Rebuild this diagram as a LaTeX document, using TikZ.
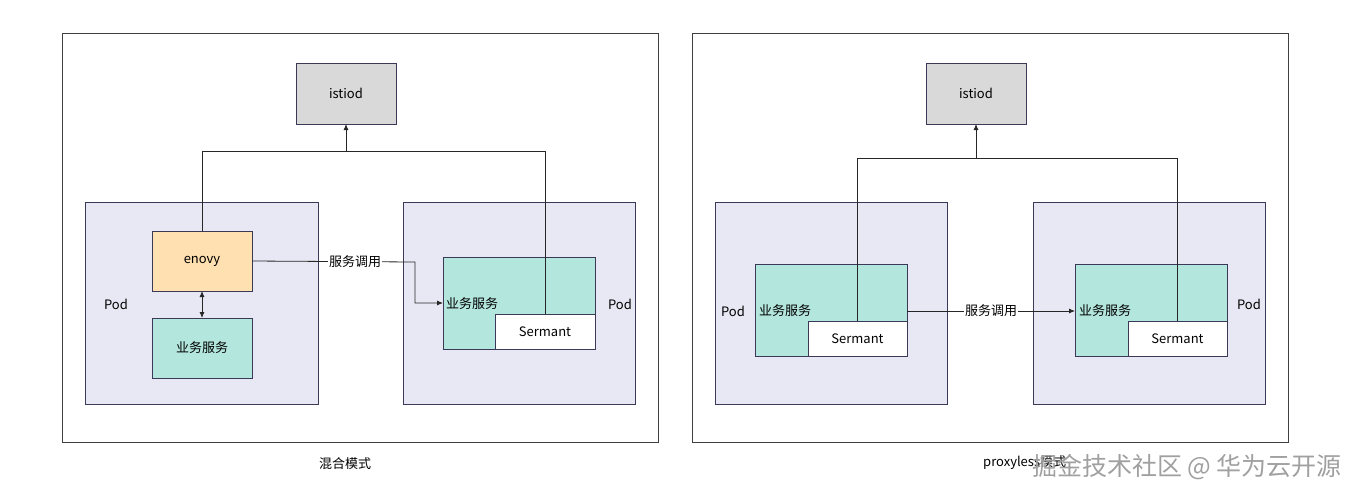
\documentclass[tikz,border=0pt]{standalone}
\usepackage{fontspec}
\setmainfont{Noto Sans CJK SC}
\usetikzlibrary{arrows.meta,calc}
\definecolor{podfill}{HTML}{E8E8F4}
\definecolor{podline}{HTML}{3A3A58}
\definecolor{tealfill}{HTML}{B3E7DE}
\definecolor{peach}{HTML}{FFE0B0}
\definecolor{grayfill}{HTML}{D9D9D9}
\definecolor{wm}{HTML}{A0A0A0}
\tikzset{
  panel/.style={draw=black!75, line width=0.8pt, inner sep=0pt, outer sep=0pt},
  pod/.style={draw=podline, fill=podfill, line width=0.8pt, inner sep=0pt, outer sep=0pt},
  boxx/.style={draw=podline, line width=0.8pt, inner sep=0pt, outer sep=0pt, font=\fontsize{13}{15}\selectfont},
  lbl/.style={font=\fontsize{13}{15}\selectfont, inner sep=1pt},
  wire/.style={line width=0.8pt, draw=black!85},
  arr/.style={wire, -{Latex[length=6pt,width=5pt]}},
  darr/.style={wire, {Latex[length=6pt,width=5pt]}-{Latex[length=6pt,width=5pt]}},
}
\begin{document}
\begin{tikzpicture}[x=1pt,y=-1pt]
\useasboundingbox (0,0) rectangle (1357,499);
% ===== left panel =====
\node[panel, minimum width=596pt, minimum height=409pt] (panL) at (360,237.5) {};
\node[boxx, fill=grayfill, minimum width=100pt, minimum height=61pt] (istiodL) at (346,93.5) {istiod};
\node[pod, minimum width=233pt, minimum height=202pt] (podL1) at (201.5,303) {};
\node[pod, minimum width=232pt, minimum height=202pt] (podL2) at (519,303) {};
\node[lbl] (podL1t) at (116,304) {Pod};
\node[lbl] (podL2t) at (620,304) {Pod};
\node[boxx, fill=peach, minimum width=100pt, minimum height=60pt] (enovy) at (202,261) {enovy};
\node[boxx, fill=tealfill, minimum width=100pt, minimum height=60pt] (svcL1) at (202,348) {业务服务};
\node[boxx, fill=tealfill, minimum width=152pt, minimum height=92pt] (svcL2) at (519,303) {};
\node[lbl, anchor=west] (svcL2t) at (445,304) {业务服务};
\node[boxx, fill=white, minimum width=100pt, minimum height=35pt] (semL) at (545,331.5) {Sermant};
\coordinate (jL) at (346,151);
\draw[wire] (enovy.north) |- (jL);
\draw[wire] (semL.north) |- (jL);
\draw[arr] (jL) -- (istiodL.south);
\draw[darr] (enovy.south) -- (svcL1.north);
\coordinate (bendL) at (415,262);
\draw[arr] (enovy.east) -- (bendL) |- (svcL2.west);
\node[lbl, fill=white] (callL) at (355,262) {服务调用};
\node[lbl] (capL) at (345,464) {混合模式};
% ===== right panel =====
\node[panel, minimum width=596pt, minimum height=409pt] (panR) at (990,237.5) {};
\node[boxx, fill=grayfill, minimum width=100pt, minimum height=61pt] (istiodR) at (976,93.5) {istiod};
\node[pod, minimum width=232pt, minimum height=202pt] (podR1) at (831,303) {};
\node[pod, minimum width=232pt, minimum height=202pt] (podR2) at (1149,303) {};
\node[lbl] (podR1t) at (733,311) {Pod};
\node[lbl] (podR2t) at (1249,304) {Pod};
\node[boxx, fill=tealfill, minimum width=152pt, minimum height=92pt] (svcR1) at (831,310) {};
\node[lbl, anchor=west] (svcR1t) at (758,311) {业务服务};
\node[boxx, fill=white, minimum width=99pt, minimum height=35pt] (semR1) at (857.5,338.5) {Sermant};
\node[boxx, fill=tealfill, minimum width=152pt, minimum height=92pt] (svcR2) at (1151,310) {};
\node[lbl, anchor=west] (svcR2t) at (1078,311) {业务服务};
\node[boxx, fill=white, minimum width=99pt, minimum height=35pt] (semR2) at (1177.5,338.5) {Sermant};
\coordinate (jR) at (976,158);
\draw[wire] (semR1.north) |- (jR);
\draw[wire] (semR2.north) |- (jR);
\draw[arr] (jR) -- (istiodR.south);
\draw[arr] (svcR1.east |- svcR1t) -- (svcR2.west |- svcR2t);
\node[lbl, fill=white] (callR) at (991,311) {服务调用};
\node[lbl, anchor=west] (capR) at (982,463) {proxyless模式};
% watermark
\node[font=\fontsize{25}{28}\selectfont, text=wm, inner sep=0pt] (wmark) at (1187,467) {掘金技术社区 @ 华为云开源};
\end{tikzpicture}
\end{document}
